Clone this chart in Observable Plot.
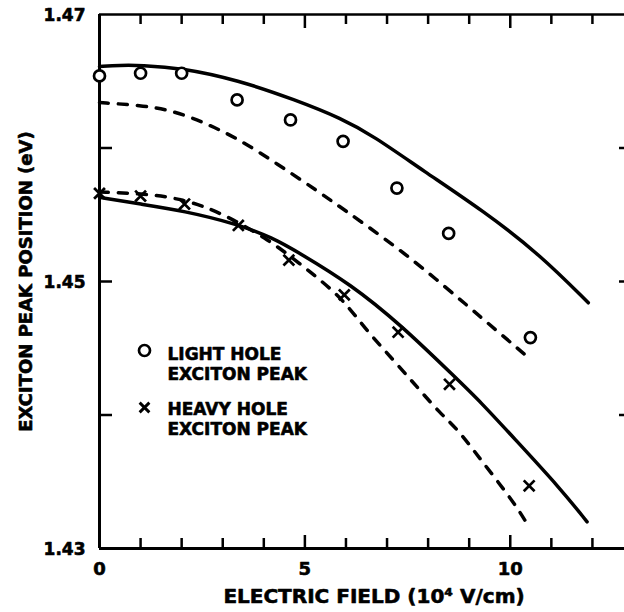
<!DOCTYPE html>
<html>
<head>
<meta charset="utf-8">
<script src="https://cdn.jsdelivr.net/npm/d3@7"></script>
<script src="https://cdn.jsdelivr.net/npm/@observablehq/plot@0.6"></script>
<style>
  html, body { margin: 0; padding: 0; background: #fff; }
  #chart svg { display: block; }
</style>
</head>
<body>
<div id="chart"></div>
<script>
// ---- measured points (electric field in 10^4 V/cm, energy in eV) ----
const lightField = [0, 1.0, 2.0, 3.35, 4.65, 5.93, 7.24, 8.5, 10.49];
const lightPeak  = [1.4654, 1.4656, 1.4656, 1.4636, 1.4621, 1.4605, 1.4570, 1.4536, 1.4458];

const heavyField = [0, 1.0, 2.07, 3.38, 4.61, 5.96, 7.27, 8.52, 10.46];
const heavyPeak  = [1.4566, 1.4564, 1.4558, 1.4542, 1.4516, 1.4490, 1.4462, 1.4423, 1.4347];

// ---- theory curves ----
const lightSolidX = [0, 0.5, 1.0, 2.0, 3.36, 4.77, 5.9, 6.67, 7.88, 9.34, 10.73, 11.9];
const lightSolidY = [1.4661, 1.4662, 1.4662, 1.4660, 1.4651, 1.4636, 1.4622, 1.4609, 1.4583, 1.4553, 1.4520, 1.4484];

const lightDashX = [0, 1.0, 1.8, 2.63, 3.43, 4.33, 5.30, 5.99, 6.91, 7.88, 8.95, 9.68, 10.44];
const lightDashY = [1.4634, 1.4632, 1.4628, 1.4618, 1.4606, 1.4588, 1.4568, 1.4553, 1.4533, 1.4510, 1.4482, 1.4463, 1.4443];

const heavySolidX = [0, 1.0, 2.04, 3.36, 4.2, 4.89, 6.11, 7.32, 8.70, 9.27, 10.08, 11.22, 11.87];
const heavySolidY = [1.4563, 1.4558, 1.4553, 1.4543, 1.4533, 1.4521, 1.4498, 1.4468, 1.4427, 1.4410, 1.4383, 1.4345, 1.4320];

const heavyDashX = [0, 1.0, 2.04, 3.0, 4.14, 4.89, 5.38, 5.94, 6.51, 7.16, 7.73, 8.30, 8.70, 9.27, 10.08, 10.40];
const heavyDashY = [1.4567, 1.4566, 1.4562, 1.4551, 1.4531, 1.4513, 1.4501, 1.4486, 1.4463, 1.4441, 1.4421, 1.4401, 1.4390, 1.4367, 1.4335, 1.4319];

// ---- axes ----
const xDomain = [0, 13];
const yDomain = [1.43, 1.47];
const xMinorTicks = [1, 2, 3, 4, 6, 7, 8, 9, 11, 12];
const xMajorTicks = [5, 10];
const xTickLabels = [0, 5, 10];
const yInnerTicks = [1.44, 1.45, 1.46];
const yTickLabels = ["1.47", "1.45", "1.43"];

const xTitle = "ELECTRIC FIELD (10\u2074 V/cm)";
const yTitle = "EXCITON PEAK POSITION (eV)";
const legendLight = "LIGHT HOLE\nEXCITON PEAK";
const legendHeavy = "HEAVY HOLE\nEXCITON PEAK";

const toRows = (xs, ys) => xs.map((x, i) => ({x, y: ys[i]}));

const W = 624, H = 612;
const mL = 99, mR = 0, mT = 14, mB = 64;
const frameW = W - mL - mR;   // 525
const frameH = H - mT - mB;   // 534

const heavyText = {fontWeight: "bold", fill: "black", stroke: "black", strokeWidth: 0.6};
const curveStyle = {x: "x", y: "y", curve: "basis", stroke: "black", strokeWidth: 3.5};
const dashStyle = {...curveStyle, strokeDasharray: "9,10", strokeLinecap: "round"};

const chart = Plot.plot({
  width: W,
  height: H,
  marginLeft: mL, marginRight: mR, marginTop: mT, marginBottom: mB,
  x: {domain: xDomain, range: [mL, mL + 534], axis: null},
  y: {domain: yDomain, range: [H - mB, mT], axis: null},
  style: {fontFamily: "DejaVu Sans", fontWeight: "bold", background: "white", color: "black", overflow: "hidden"},
  marks: [
    // frame lines
    Plot.ruleX([0], {stroke: "black", strokeWidth: 3}),
    Plot.ruleY([yDomain[0]], {stroke: "black", strokeWidth: 3}),
    Plot.ruleY([yDomain[1]], {stroke: "black", strokeWidth: 2.6}),
    // bottom ticks (inward)
    Plot.ruleX(xMinorTicks, {stroke: "black", strokeWidth: 2.5, insetTop: frameH - 10}),
    Plot.ruleX(xMajorTicks, {stroke: "black", strokeWidth: 2.5, insetTop: frameH - 13}),
    // top ticks (inward)
    Plot.ruleX(xMinorTicks, {stroke: "black", strokeWidth: 2.5, insetBottom: frameH - 10}),
    Plot.ruleX(xMajorTicks, {stroke: "black", strokeWidth: 2.5, insetBottom: frameH - 14}),
    // left ticks
    Plot.ruleY(yInnerTicks, {stroke: "black", strokeWidth: 2.5, insetRight: frameW - 13}),
    // right ticks (axis just beyond the picture)
    Plot.ruleY(yInnerTicks, {stroke: "black", strokeWidth: 2.5, insetLeft: frameW - 5}),

    // theory curves
    Plot.line(toRows(lightSolidX, lightSolidY), curveStyle),
    Plot.line(toRows(heavySolidX, heavySolidY), curveStyle),
    Plot.line(toRows(lightDashX, lightDashY), dashStyle),
    Plot.line(toRows(heavyDashX, heavyDashY), dashStyle),

    // data points
    Plot.dot(toRows(lightField, lightPeak), {x: "x", y: "y", symbol: "circle", r: 5.5, stroke: "black", strokeWidth: 2.7, fill: "white"}),
    Plot.dot(toRows(heavyField, heavyPeak), {x: "x", y: "y", symbol: "times", r: 5, stroke: "black", strokeWidth: 2.7}),

    // tick labels
    Plot.text(yTickLabels, {x: 0, y: d => +d, text: d => d, textAnchor: "end", dx: -14, dy: 1, fontSize: 17, ...heavyText}),
    Plot.text(xTickLabels, {x: d => d, y: yDomain[0], text: d => String(d), dy: 21, fontSize: 18, ...heavyText}),

    // axis titles
    Plot.text([xTitle], {frameAnchor: "bottom", textAnchor: "middle", lineAnchor: "middle", dx: 12, dy: 48, fontSize: 20, ...heavyText}),
    Plot.text([yTitle], {frameAnchor: "left", textAnchor: "middle", lineAnchor: "middle", rotate: -90, dx: -73, dy: 0, fontSize: 18, ...heavyText}),

    // legend
    Plot.dot([0], {frameAnchor: "top-left", dx: 45, dy: 336, symbol: "circle", r: 5.5, stroke: "black", strokeWidth: 2.7, fill: "white"}),
    Plot.dot([0], {frameAnchor: "top-left", dx: 45, dy: 393, symbol: "times", r: 4.5, stroke: "black", strokeWidth: 2.9}),
    Plot.text([legendLight], {frameAnchor: "top-left", dx: 68, dy: 331, textAnchor: "start", lineAnchor: "top", lineHeight: 1.18, fontSize: 17, ...heavyText}),
    Plot.text([legendHeavy], {frameAnchor: "top-left", dx: 68, dy: 386, textAnchor: "start", lineAnchor: "top", lineHeight: 1.18, fontSize: 17, ...heavyText})
  ]
});

document.getElementById("chart").appendChild(chart);
</script>
</body>
</html>
